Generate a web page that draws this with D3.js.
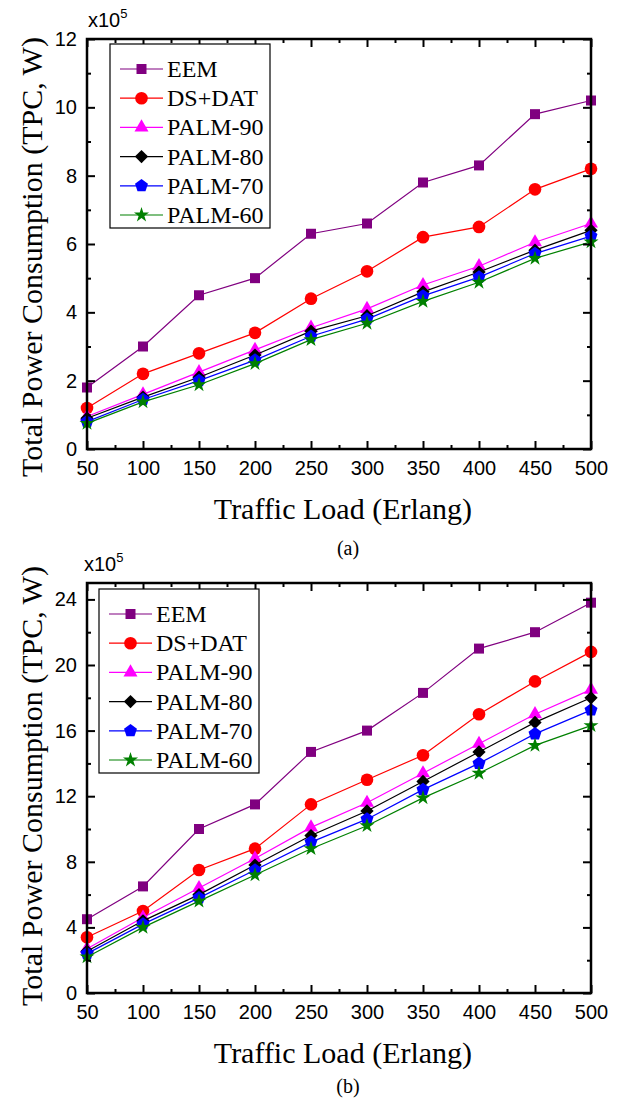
<!DOCTYPE html>
<html>
<head>
<meta charset="utf-8">
<script src="https://cdn.jsdelivr.net/npm/d3@7"></script>
<style>
  body { margin: 0; background: #fff; }
  .tick text { font-family: "Liberation Sans", Arial, sans-serif; }
</style>
</head>
<body>
<div id="viz"></div>
<script>
// traffic load (Erlang)
var loads = [50, 100, 150, 200, 250, 300, 350, 400, 450, 500];
var seriesNames = ["EEM", "DS+DAT", "PALM-90", "PALM-80", "PALM-70", "PALM-60"];

// panel (a), TPC in x10^5 W
var eemA    = [1.8, 3.0, 4.5, 5.0, 6.3, 6.6, 7.8, 8.3, 9.8, 10.2];
var dsdatA  = [1.2, 2.2, 2.8, 3.4, 4.4, 5.2, 6.2, 6.5, 7.6, 8.2];
var palm90A = [0.95, 1.6, 2.25, 2.9, 3.55, 4.1, 4.8, 5.35, 6.05, 6.6];
var palm80A = [0.9, 1.52, 2.1, 2.75, 3.45, 3.9, 4.6, 5.18, 5.82, 6.4];
var palm70A = [0.8, 1.45, 2.0, 2.6, 3.3, 3.8, 4.48, 5.03, 5.72, 6.23];
var palm60A = [0.75, 1.38, 1.88, 2.5, 3.2, 3.68, 4.32, 4.88, 5.58, 6.06];

// panel (b)
var eemB    = [4.5, 6.5, 10.0, 11.5, 14.7, 16.0, 18.3, 21.0, 22.0, 23.8];
var dsdatB  = [3.4, 5.0, 7.5, 8.8, 11.5, 13.0, 14.5, 17.0, 19.0, 20.8];
var palm90B = [2.7, 4.6, 6.4, 8.2, 10.1, 11.6, 13.4, 15.2, 17.0, 18.5];
var palm80B = [2.55, 4.4, 6.0, 7.8, 9.6, 11.1, 12.9, 14.7, 16.5, 18.0];
var palm70B = [2.4, 4.2, 5.8, 7.5, 9.2, 10.6, 12.4, 14.0, 15.8, 17.25];
var palm60B = [2.2, 4.0, 5.6, 7.2, 8.8, 10.2, 11.9, 13.4, 15.1, 16.3];

var yTicksA = [0, 2, 4, 6, 8, 10, 12];
var yMinorA = [1, 3, 5, 7, 9, 11];
var yTicksB = [0, 4, 8, 12, 16, 20, 24];
var yMinorB = [2, 6, 10, 14, 18, 22];
var xMinor = [75, 125, 175, 225, 275, 325, 375, 425, 475];

var COLORS = ["#800080", "#FF0000", "#FF00FF", "#000000", "#0000FF", "#008000"];
var SERIF = '"Liberation Serif", "Times New Roman", serif';
var SANS = '"Liberation Sans", Arial, sans-serif';

// custom marker shapes
var symDiamond = {
	draw: function(ctx, size) {
		var r = Math.sqrt(size / 2);
		ctx.moveTo(0, -r); ctx.lineTo(r, 0); ctx.lineTo(0, r); ctx.lineTo(-r, 0); ctx.closePath();
	}
};
var symPentagon = {
	draw: function(ctx, size) {
		var r = Math.sqrt(size / (2.5 * Math.sin(2 * Math.PI / 5)));
		for (var i = 0; i < 5; i++) {
			var a = -Math.PI / 2 + i * 2 * Math.PI / 5;
			if (i == 0) ctx.moveTo(r * Math.cos(a), r * Math.sin(a));
			else ctx.lineTo(r * Math.cos(a), r * Math.sin(a));
		}
		ctx.closePath();
	}
};
var SYMBOLS = [
	{type: d3.symbolSquare, size: 100},
	{type: d3.symbolCircle, size: 125},
	{type: d3.symbolTriangle, size: 85},
	{type: symDiamond, size: 88},
	{type: symPentagon, size: 110},
	{type: d3.symbolStar, size: 70}
];

var W = 621, H = 1101;
var svg = d3.select("#viz").append("svg")
	.attr("width", W)
	.attr("height", H)
	.style("background", "#fff");

function $each(list, fn) {
	for (var i = 0; i < list.length; i++) fn(i, list[i]);
}

var drawPanel = function(p) {
	var x = d3.scaleLinear().domain([50, 500]).range([p.left, p.right]);
	var y = d3.scaleLinear().domain([0, p.yMax]).range([p.bottom, p.top]);
	var g = svg.append("g");

	// data lines + markers
	$each(p.series, function(k, vals) {
		var line = d3.line()
			.x(function(d, i) { return x(loads[i]); })
			.y(function(d) { return y(d); });
		g.append("path")
			.datum(vals)
			.attr("fill", "none")
			.attr("stroke", COLORS[k])
			.attr("stroke-width", 1.2)
			.attr("d", line);
		var sym = d3.symbol().type(SYMBOLS[k].type).size(SYMBOLS[k].size);
		g.selectAll(null).data(vals).enter().append("path")
			.attr("transform", function(d, i) { return "translate(" + x(loads[i]) + "," + y(d) + ")"; })
			.attr("fill", COLORS[k])
			.attr("d", sym);
	});

	// axes: ticks pointing inward on all four sides
	var axes = [
		{ax: d3.axisBottom(x).tickValues(loads).tickSize(-8).tickPadding(12), t: "translate(0," + p.bottom + ")"},
		{ax: d3.axisBottom(x).tickValues(xMinor).tickSize(-4).tickFormat(""), t: "translate(0," + p.bottom + ")"},
		{ax: d3.axisTop(x).tickValues(loads).tickSize(-8).tickFormat(""), t: "translate(0," + p.top + ")"},
		{ax: d3.axisTop(x).tickValues(xMinor).tickSize(-4).tickFormat(""), t: "translate(0," + p.top + ")"},
		{ax: d3.axisLeft(y).tickValues(p.yTicks).tickSize(-8).tickPadding(10), t: "translate(" + p.left + ",0)"},
		{ax: d3.axisLeft(y).tickValues(p.yMinor).tickSize(-4).tickFormat(""), t: "translate(" + p.left + ",0)"},
		{ax: d3.axisRight(y).tickValues(p.yTicks).tickSize(-8).tickFormat(""), t: "translate(" + p.right + ",0)"},
		{ax: d3.axisRight(y).tickValues(p.yMinor).tickSize(-4).tickFormat(""), t: "translate(" + p.right + ",0)"}
	];
	axes.forEach(function(a) {
		var ag = g.append("g").attr("transform", a.t).call(a.ax);
		ag.select(".domain").remove();
		ag.selectAll(".tick line").attr("stroke", "#000").attr("stroke-width", 2);
		ag.selectAll(".tick text")
			.attr("fill", "#000")
			.style("font-family", SANS)
			.style("font-size", "20px");
	});

	g.append("rect")
		.attr("x", p.left).attr("y", p.top)
		.attr("width", p.right - p.left).attr("height", p.bottom - p.top)
		.attr("fill", "none").attr("stroke", "#000").attr("stroke-width", 2.5);

	// x10^5 multiplier
	var mult = g.append("text")
		.attr("x", p.left + p.multDx).attr("y", p.top - 12)
		.style("font-family", SANS).style("font-size", "20px");
	mult.append("tspan").text("x10");
	mult.append("tspan").attr("dy", -9).style("font-size", "13px").text("5");

	// axis titles
	g.append("text")
		.attr("x", (p.left + p.right) / 2 + 4).attr("y", p.bottom + 70)
		.attr("text-anchor", "middle")
		.style("font-family", SERIF).style("font-size", "30px")
		.text("Traffic Load (Erlang)");
	g.append("text")
		.attr("transform", "translate(42," + p.yTitleMid + ") rotate(-90)")
		.attr("text-anchor", "middle")
		.style("font-family", SERIF).style("font-size", "30px")
		.text("Total Power Consumption (TPC, W)");
	g.append("text")
		.attr("x", 348).attr("y", p.captionY)
		.attr("text-anchor", "middle")
		.style("font-family", SERIF).style("font-size", "20px")
		.text(p.caption);

	// legend
	var lg = g.append("g").attr("transform", "translate(" + p.legX + "," + p.legY + ")");
	lg.append("rect")
		.attr("width", 160).attr("height", 184)
		.attr("fill", "#fff").attr("stroke", "#000").attr("stroke-width", 1.2);
	$each(seriesNames, function(k, name) {
		var ly = 25 + k * 29.2;
		lg.append("line")
			.attr("x1", 10).attr("x2", 53).attr("y1", ly).attr("y2", ly)
			.attr("stroke", COLORS[k]).attr("stroke-width", 1.2);
		lg.append("path")
			.attr("transform", "translate(31.5," + ly + ")")
			.attr("fill", COLORS[k])
			.attr("d", d3.symbol().type(SYMBOLS[k].type).size(SYMBOLS[k].size));
		lg.append("text")
			.attr("x", 57).attr("y", ly + 8)
			.style("font-family", SERIF).style("font-size", "24px")
			.text(name);
	});
};

drawPanel({
	left: 87, right: 591, top: 39, bottom: 449, yMax: 12,
	yTicks: yTicksA, yMinor: yMinorA,
	series: [eemA, dsdatA, palm90A, palm80A, palm70A, palm60A],
	multDx: 1, yTitleMid: 257, caption: "(a)", captionY: 555,
	legX: 110, legY: 44
});

drawPanel({
	left: 87, right: 591, top: 583, bottom: 993, yMax: 25,
	yTicks: yTicksB, yMinor: yMinorB,
	series: [eemB, dsdatB, palm90B, palm80B, palm70B, palm60B],
	multDx: -3, yTitleMid: 786, caption: "(b)", captionY: 1093,
	legX: 99, legY: 589
});
</script>
</body>
</html>
